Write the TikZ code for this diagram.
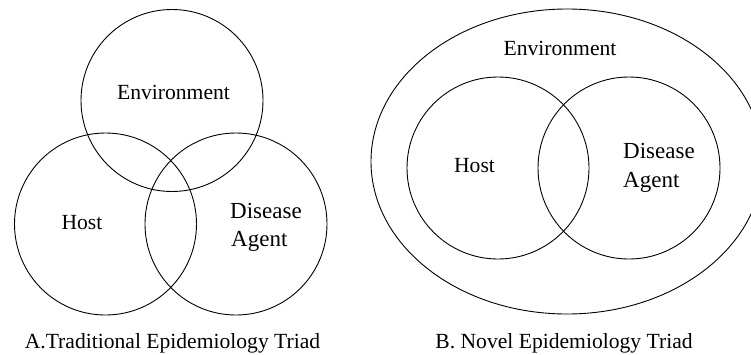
\documentclass[tikz,border=0pt]{standalone}
\usepackage{fontspec}
\setmainfont{Liberation Serif}
\usetikzlibrary{shapes.geometric}
\begin{document}
\begin{tikzpicture}[x=1pt,y=-1pt,
  ring/.style={draw=black,line width=0.9pt,circle,inner sep=0pt,minimum size=182pt},
  oval/.style={draw=black,line width=0.9pt,ellipse,inner sep=0pt,minimum width=392pt,minimum height=305pt},
  lbl/.style={font=\fontsize{21.6}{26}\selectfont,inner sep=0pt,anchor=base},
  big/.style={font=\fontsize{23}{28}\selectfont,inner sep=0pt,anchor=base west}]
\useasboundingbox (0,0) rectangle (751,354);
\fill[white] (0,0) rectangle (751,354);
% A. traditional triad
\node[ring] (envA) at (172,100.5) {};
\node[ring] (hostA) at (105.5,224) {};
\node[ring] (agentA) at (236,224) {};
\node[lbl] (tEnvA) at (173.5,99) {Environment};
\node[lbl] (tHostA) at (82,229) {Host};
\node[big] (tDisA) at (230,218) {Disease};
\node[big] (tAgA) at (231,246) {Agent};
\node[lbl] (capA) at (172.5,348) {A.Traditional Epidemiology Triad};
% B. novel triad
\node[oval] (envB) at (567,161.5) {};
\node[ring] (hostB) at (498,168) {};
\node[ring] (agentB) at (629,168) {};
\node[lbl] (tEnvB) at (560,55) {Environment};
\node[lbl] (tHostB) at (474.5,172) {Host};
\node[big] (tDisB) at (623,158) {Disease};
\node[big] (tAgB) at (623,187) {Agent};
\node[lbl] (capB) at (564,348) {B. Novel Epidemiology Triad};
\end{tikzpicture}
\end{document}
